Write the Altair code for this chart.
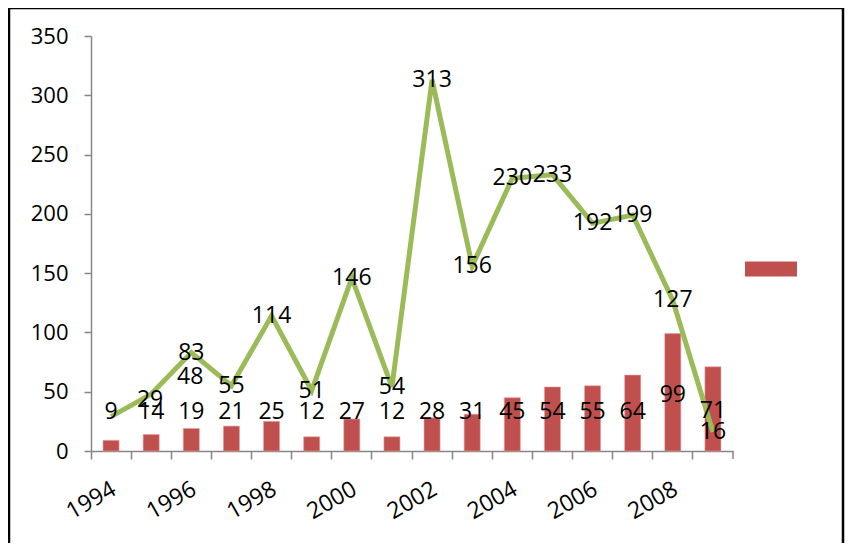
import altair as alt
import pandas as pd

years = [str(y) for y in range(1994, 2010)]
bar_values = [9, 14, 19, 21, 25, 12, 27, 12, 28, 31, 45, 54, 55, 64, 99, 71]
line_values = [29, 48, 83, 55, 114, 51, 146, 54, 313, 156, 230, 233, 192, 199, 127, 16]
y_ticks = [0, 50, 100, 150, 200, 250, 300, 350]
shifted_label_years = ["1994", "1995"]

df = pd.DataFrame({"year": years, "bar": bar_values, "line": line_values, "series": [" "] * len(years)})

FONT = "Open Sans"
GREY = "#868686"
RED = "#C0504D"
GREEN = "#9BBB59"

x_enc = alt.X(
    "year:O",
    scale=alt.Scale(paddingInner=0, paddingOuter=0),
    axis=alt.Axis(
        title=None,
        bandPosition=0,
        domainColor=GREY,
        domainWidth=1.5,
        tickColor=GREY,
        tickWidth=1.5,
        tickSize=8,
        labelAngle=330,
        labelAlign="right",
        labelBaseline="middle",
        labelOffset=3,
        labelPadding=28,
        labelFontSize=23,
        labelColor="black",
        labelFont=FONT,
        labelExpr="parseInt(datum.value) % 2 == 0 ? datum.value : ''",
    ),
)
y_scale = alt.Scale(domain=[0, 350], nice=False)

base = alt.Chart(df)

bars = base.mark_bar(width=alt.RelativeBandSize(0.4), stroke="#E8A09E", strokeWidth=0.6).encode(
    x=x_enc,
    y=alt.Y(
        "bar:Q",
        scale=y_scale,
        axis=alt.Axis(
            title=None,
            values=y_ticks,
            grid=False,
            domainColor=GREY,
            domainWidth=1.5,
            tickColor=GREY,
            tickWidth=1.5,
            tickSize=7,
            labelPadding=16,
            labelFontSize=22,
            labelColor="black",
            labelFont=FONT,
        ),
    ),
    color=alt.Color(
        "series:N",
        scale=alt.Scale(range=[RED]),
        legend=alt.Legend(
            title=None,
            orient="none",
            legendX=654,
            legendY=207,
            padding=0,
            symbolType="M-1,-0.29H1V0.29H-1Z",
            symbolSize=2704,
            symbolStrokeWidth=0,
            symbolOpacity=1,
            labelExpr="''",
        ),
    ),
)

line = base.mark_line(color=GREEN, strokeWidth=5).encode(x=x_enc, y=alt.Y("line:Q", scale=y_scale))

text_style = dict(fontSize=23, font=FONT, color="black", baseline="middle", align="center")

line_text_main = base.transform_filter(
    {"not": alt.FieldOneOfPredicate(field="year", oneOf=shifted_label_years)}
).mark_text(**text_style).encode(x=x_enc, y=alt.Y("line:Q", scale=y_scale), text="line:Q")

line_text_shifted = base.transform_filter(
    alt.FieldOneOfPredicate(field="year", oneOf=shifted_label_years)
).mark_text(dx=39, dy=-17, **text_style).encode(x=x_enc, y=alt.Y("line:Q", scale=y_scale), text="line:Q")

bar_text = base.transform_calculate(
    label_pos="max(33, datum.bar * 0.48)"
).mark_text(**text_style).encode(
    x=x_enc, y=alt.Y("label_pos:Q", scale=y_scale), text="bar:Q"
)

end_tick = alt.Chart(pd.DataFrame({"k": [0]})).mark_rule(color=GREY, strokeWidth=1.5).encode(
    x=alt.value(642), y=alt.value(415), y2=alt.value(423)
)

frame = alt.Chart(pd.DataFrame({"k": [0]})).mark_rect(fill=None, stroke="black", strokeWidth=2.5).encode(
    x=alt.value(-82), x2=alt.value(752), y=alt.value(-28), y2=alt.value(600)
)

chart = alt.layer(bars, line, bar_text, line_text_main, line_text_shifted, end_tick, frame).properties(
    width=642,
    height=415,
    autosize=alt.AutoSizeParams(type="none"),
    padding={"left": 83, "top": 28, "right": 113, "bottom": 92},
).configure(font=FONT).configure_view(strokeWidth=0, stroke="transparent")

chart.save("out.html", embed_options={"renderer": "svg", "actions": False})
